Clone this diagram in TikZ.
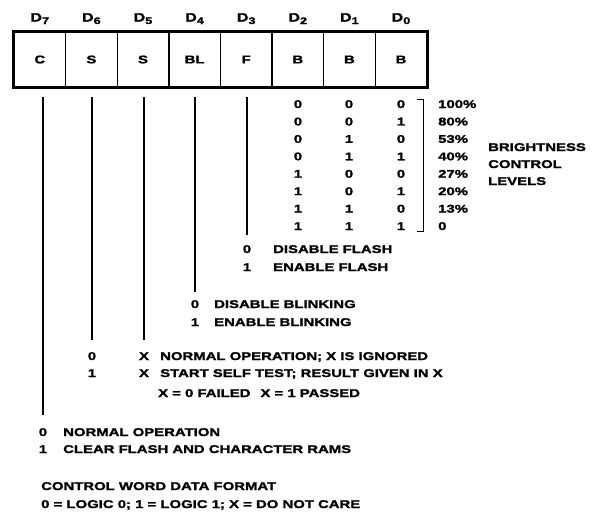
\documentclass[tikz,border=0pt]{standalone}
\usepackage{fontspec}
\newfontfamily\hfont{Liberation Sans}[FakeStretch=1.33, BoldFeatures={FakeBold=1.6}]
\begin{document}
\begin{tikzpicture}[x=1pt,y=-1pt,
  txt/.style={inner sep=0pt, anchor=base west, font=\hfont\bfseries\fontsize{11.2}{13}\selectfont},
  ctxt/.style={txt, anchor=base},
  hdr/.style={inner sep=0pt, anchor=base, font=\hfont\bfseries\fontsize{12}{14}\selectfont},
  cell/.style={draw, line width=1.4pt, minimum width=51.6pt, minimum height=55pt, inner sep=0pt, font=\hfont\bfseries\fontsize{11.2}{13}\selectfont},
  conn/.style={line width=1.2pt}]
\useasboundingbox (0,0) rectangle (593,515);
% cells
\foreach \k/\lab/\n in {0/C/7,1/S/6,2/S/5,3/BL/4,4/F/3,5/B/2,6/B/1,7/B/0}{
  \node[cell] (c\n) at ({14+51.6*(\k+0.5)},59.5) {\lab};
  \node[hdr] (h\n) at ({14+51.6*(\k+0.5)},21.5) {D\raisebox{-2.5pt}{\fontsize{9.5}{10}\selectfont\n}};
}
\draw[line width=3pt] (c7.north west) rectangle (c0.south east);
% connectors
\foreach \n/\x/\yb in {7/43/415,6/92/340,5/144/340,4/195/292,3/247/235}{
  \coordinate (t\n) at (\x,97);
  \coordinate (b\n) at (\x,\yb);
  \draw[conn] (t\n) -- (b\n);
}
% brightness table
\foreach \i/\a/\b/\c/\p in {0/0/0/0/100\%,1/0/0/1/80\%,2/0/1/0/53\%,3/0/1/1/40\%,4/1/0/0/27\%,5/1/0/1/20\%,6/1/1/0/13\%,7/1/1/1/0}{
  \node[ctxt] (r\i a) at (298,{108+17.43*\i}) {\a};
  \node[ctxt] (r\i b) at (349,{108+17.43*\i}) {\b};
  \node[ctxt] (r\i c) at (401,{108+17.43*\i}) {\c};
  \node[txt] (p\i) at (438,{108+17.43*\i}) {\p};
}
\coordinate (bt) at (417,99);
\coordinate (bb) at (417,231);
\draw[line width=1pt] (bt) -- ++(6,0) |- (bb);
\node[txt] (bc1) at (488,151) {BRIGHTNESS};
\node[txt] (bc2) at (488,168) {CONTROL};
\node[txt] (bc3) at (488,185) {LEVELS};
% flash
\node[ctxt] (f0) at (247,253) {0};
\node[txt] (f0t) at (273,253) {DISABLE FLASH};
\node[ctxt] (f1) at (247,271) {1};
\node[txt] (f1t) at (273,271) {ENABLE FLASH};
% blinking
\node[ctxt] (k0) at (195,308) {0};
\node[txt] (k0t) at (214,308) {DISABLE BLINKING};
\node[ctxt] (k1) at (195,326) {1};
\node[txt] (k1t) at (214,326) {ENABLE BLINKING};
% self test
\node[ctxt] (s0) at (92,360) {0};
\node[ctxt] (s0x) at (144,360) {X};
\node[txt] (s0t) at (160,360) {NORMAL OPERATION; X IS IGNORED};
\node[ctxt] (s1) at (92,377) {1};
\node[ctxt] (s1x) at (144,377) {X};
\node[txt] (s1t) at (160,377) {START SELF TEST; RESULT GIVEN IN X};
\node[txt] (s2t) at (158,397) {X = 0 FAILED\hspace{10pt}X = 1 PASSED};
% clear
\node[ctxt] (q0) at (43,436) {0};
\node[txt] (q0t) at (63,436) {NORMAL OPERATION};
\node[ctxt] (q1) at (43,453) {1};
\node[txt] (q1t) at (63,453) {CLEAR FLASH AND CHARACTER RAMS};
% footer
\node[txt] (ft1) at (41,490) {CONTROL WORD DATA FORMAT};
\node[txt] (ft2) at (41,508) {0 = LOGIC 0; 1 = LOGIC 1; X = DO NOT CARE};
\end{tikzpicture}
\end{document}
